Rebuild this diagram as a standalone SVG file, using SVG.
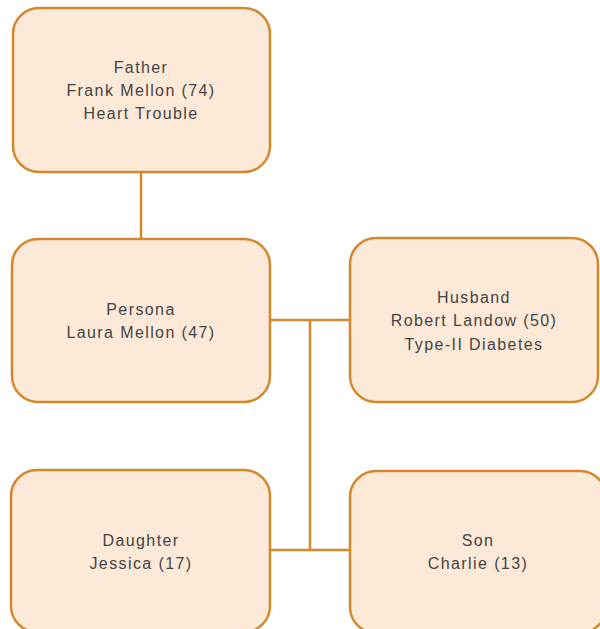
<svg xmlns="http://www.w3.org/2000/svg" width="600" height="629" viewBox="0 0 600 629">
<style>
.box{fill:#fde9d7;stroke:#d4882b;stroke-width:2.5}
.lbl{font-family:"Liberation Sans",Arial,sans-serif;font-size:16px;fill:#444444;text-anchor:middle;letter-spacing:1.4px}
.conn{stroke:#d4882b;stroke-width:2.5;fill:none}
</style>
<rect width="600" height="629" fill="#ffffff"/>
<g id="connectors">
<line class="conn" x1="141" y1="172" x2="141" y2="239"/>
<line class="conn" x1="270" y1="320" x2="350" y2="320"/>
<line class="conn" x1="310" y1="320" x2="310" y2="550"/>
<line class="conn" x1="270" y1="550" x2="350" y2="550"/>
</g>
<g id="father">
<rect class="box" x="13" y="8" width="257" height="164" rx="26"/>
<text class="lbl" x="141" y="73">Father</text>
<text class="lbl" x="141" y="96">Frank Mellon (74)</text>
<text class="lbl" x="141" y="119">Heart Trouble</text>
</g>
<g id="persona">
<rect class="box" x="12" y="239" width="258" height="163" rx="26"/>
<text class="lbl" x="141" y="315">Persona</text>
<text class="lbl" x="141" y="338">Laura Mellon (47)</text>
</g>
<g id="husband">
<rect class="box" x="350" y="238" width="248" height="164" rx="26"/>
<text class="lbl" x="474" y="303">Husband</text>
<text class="lbl" x="474" y="326">Robert Landow (50)</text>
<text class="lbl" x="474" y="350">Type-II Diabetes</text>
</g>
<g id="daughter">
<rect class="box" x="11" y="470" width="259" height="162" rx="26"/>
<text class="lbl" x="141" y="546">Daughter</text>
<text class="lbl" x="141" y="569">Jessica (17)</text>
</g>
<g id="son">
<rect class="box" x="350" y="471" width="256" height="162" rx="26"/>
<text class="lbl" x="478" y="546">Son</text>
<text class="lbl" x="478" y="569">Charlie (13)</text>
</g>
</svg>
